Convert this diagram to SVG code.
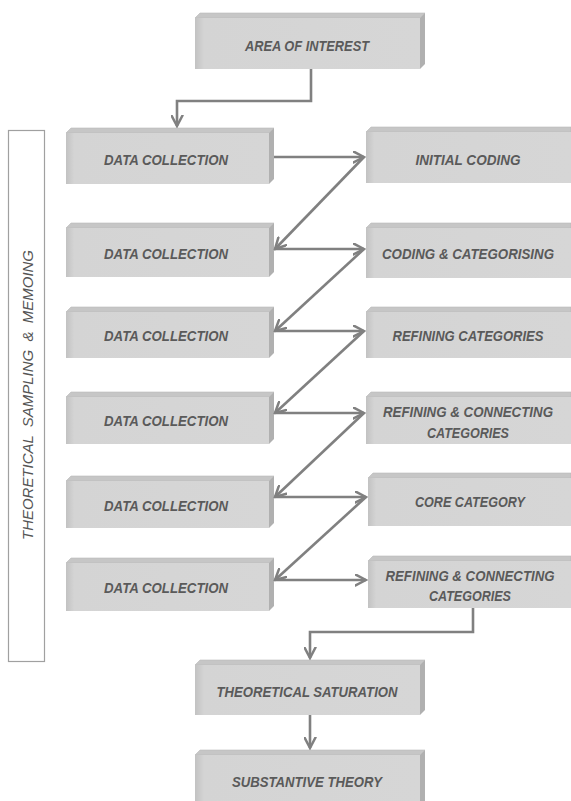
<svg xmlns="http://www.w3.org/2000/svg" width="571" height="801" viewBox="0 0 571 801">
<defs>
<linearGradient id="front" x1="0" y1="0" x2="1" y2="0">
<stop offset="0" stop-color="#c2c2c2"/>
<stop offset="0.04" stop-color="#d4d4d4"/>
<stop offset="1" stop-color="#d6d6d6"/>
</linearGradient>
<marker id="arr" viewBox="0 0 13 13" refX="11.5" refY="6.5" markerWidth="13" markerHeight="13" markerUnits="userSpaceOnUse" orient="auto">
<path d="M1,1 L11.5,6.5 L1,12" fill="none" stroke="#808080" stroke-width="2.5" stroke-linecap="round" stroke-linejoin="miter"/>
</marker>
</defs>
<style>
.front{fill:url(#front);}
.top{fill:#c6c6c6;stroke:#b8b8b8;stroke-width:0.6;}
.side{fill:#b0b0b0;}
.lbl{font-family:"Liberation Sans",Arial,sans-serif;font-weight:bold;font-style:italic;font-size:15px;fill:#5a5a5a;text-anchor:middle;}
.lbl.long{font-size:14px;}
.conn{fill:none;stroke:#808080;stroke-width:2.6;stroke-linejoin:miter;}
.side-text{font-family:"Liberation Sans",Arial,sans-serif;font-style:italic;font-size:15.5px;fill:#555;text-anchor:middle;}
</style>
<rect width="571" height="801" fill="#ffffff"/>

<g id="side-panel">
<rect x="8.5" y="130.5" width="36" height="531" fill="#ffffff" stroke="#a0a0a0" stroke-width="1.2"/>
<text class="side-text" transform="translate(32.5,395) rotate(-90)" textLength="290" lengthAdjust="spacingAndGlyphs" xml:space="preserve">THEORETICAL  SAMPLING  &amp;  MEMOING</text>
</g>

<g id="area-of-interest">
<polygon class="top" points="195,18 200,13 425,13 420,18"/>
<polygon class="side" points="420,18 425,13 425,64 420,69"/>
<rect class="front" x="195" y="18" width="225" height="51"/>
<text class="lbl" x="307" y="50.5" textLength="124" lengthAdjust="spacingAndGlyphs">AREA OF INTEREST</text>
</g>

<g id="dc1">
<polygon class="top" points="66,133 71,128 274,128 269,133"/>
<polygon class="side" points="269,133 274,128 274,179 269,184"/>
<rect class="front" x="66" y="133" width="203" height="51"/>
<text class="lbl" x="166" y="164.5" textLength="124" lengthAdjust="spacingAndGlyphs">DATA COLLECTION</text>
</g>
<g id="dc2">
<polygon class="top" points="66,228 71,223 274,223 269,228"/>
<polygon class="side" points="269,228 274,223 274,272 269,277"/>
<rect class="front" x="66" y="228" width="203" height="49"/>
<text class="lbl" x="166" y="258.5" textLength="124" lengthAdjust="spacingAndGlyphs">DATA COLLECTION</text>
</g>
<g id="dc3">
<polygon class="top" points="66,312 71,307 274,307 269,312"/>
<polygon class="side" points="269,312 274,307 274,353 269,358"/>
<rect class="front" x="66" y="312" width="203" height="46"/>
<text class="lbl" x="166" y="340.5" textLength="124" lengthAdjust="spacingAndGlyphs">DATA COLLECTION</text>
</g>
<g id="dc4">
<polygon class="top" points="66,397 71,392 274,392 269,397"/>
<polygon class="side" points="269,397 274,392 274,439 269,444"/>
<rect class="front" x="66" y="397" width="203" height="47"/>
<text class="lbl" x="166" y="425.5" textLength="124" lengthAdjust="spacingAndGlyphs">DATA COLLECTION</text>
</g>
<g id="dc5">
<polygon class="top" points="66,481 71,476 274,476 269,481"/>
<polygon class="side" points="269,481 274,476 274,523 269,528"/>
<rect class="front" x="66" y="481" width="203" height="47"/>
<text class="lbl" x="166" y="510.5" textLength="124" lengthAdjust="spacingAndGlyphs">DATA COLLECTION</text>
</g>
<g id="dc6">
<polygon class="top" points="66,563 71,558 274,558 269,563"/>
<polygon class="side" points="269,563 274,558 274,606 269,611"/>
<rect class="front" x="66" y="563" width="203" height="48"/>
<text class="lbl" x="166" y="592.5" textLength="124" lengthAdjust="spacingAndGlyphs">DATA COLLECTION</text>
</g>

<g id="initial-coding">
<polygon class="top" points="366,132 371,127 571,127 571,132"/>
<rect class="front" x="366" y="132" width="205" height="51"/>
<text class="lbl" x="468" y="164.5" textLength="105" lengthAdjust="spacingAndGlyphs">INITIAL CODING</text>
</g>
<g id="coding-categorising">
<polygon class="top" points="366,228 371,223 571,223 571,228"/>
<rect class="front" x="366" y="228" width="205" height="50"/>
<text class="lbl long" x="468" y="258.5" textLength="172" lengthAdjust="spacingAndGlyphs">CODING &amp; CATEGORISING</text>
</g>
<g id="refining-categories">
<polygon class="top" points="366,312 371,307 571,307 571,312"/>
<rect class="front" x="366" y="312" width="205" height="46"/>
<text class="lbl" x="468" y="340.5" textLength="151" lengthAdjust="spacingAndGlyphs">REFINING CATEGORIES</text>
</g>
<g id="refining-connecting-1">
<polygon class="top" points="366,397 371,392 571,392 571,397"/>
<rect class="front" x="366" y="397" width="205" height="47"/>
<text class="lbl long" x="468" y="417" textLength="170" lengthAdjust="spacingAndGlyphs">REFINING &amp; CONNECTING</text>
<text class="lbl" x="468" y="437.5" textLength="82" lengthAdjust="spacingAndGlyphs">CATEGORIES</text>
</g>
<g id="core-category">
<polygon class="top" points="368,478 373,473 571,473 571,478"/>
<rect class="front" x="368" y="478" width="203" height="48"/>
<text class="lbl" x="470" y="507" textLength="110" lengthAdjust="spacingAndGlyphs">CORE CATEGORY</text>
</g>
<g id="refining-connecting-2">
<polygon class="top" points="368,561 373,556 571,556 571,561"/>
<rect class="front" x="368" y="561" width="203" height="47"/>
<text class="lbl long" x="470" y="580.5" textLength="169" lengthAdjust="spacingAndGlyphs">REFINING &amp; CONNECTING</text>
<text class="lbl" x="470" y="601" textLength="82" lengthAdjust="spacingAndGlyphs">CATEGORIES</text>
</g>

<g id="theoretical-saturation">
<polygon class="top" points="195,665 200,660 425,660 420,665"/>
<polygon class="side" points="420,665 425,660 425,710 420,715"/>
<rect class="front" x="195" y="665" width="225" height="50"/>
<text class="lbl" x="307" y="696.5" textLength="181" lengthAdjust="spacingAndGlyphs">THEORETICAL SATURATION</text>
</g>
<g id="substantive-theory">
<polygon class="top" points="195,755 200,750 425,750 420,755"/>
<polygon class="side" points="420,755 425,750 425,801 420,801"/>
<rect class="front" x="195" y="755" width="225" height="46"/>
<text class="lbl" x="307" y="786.5" textLength="150" lengthAdjust="spacingAndGlyphs">SUBSTANTIVE THEORY</text>
</g>

<g id="connectors">
<path class="conn" d="M311,69 V101 H177 V126" marker-end="url(#arr)"/>
<path class="conn" d="M274,157 H364" marker-end="url(#arr)"/>
<path class="conn" d="M364,157 L275,249" marker-end="url(#arr)"/>
<path class="conn" d="M275,249 H364" marker-end="url(#arr)"/>
<path class="conn" d="M364,249 L275,331" marker-end="url(#arr)"/>
<path class="conn" d="M275,331 H364" marker-end="url(#arr)"/>
<path class="conn" d="M364,331 L275,413" marker-end="url(#arr)"/>
<path class="conn" d="M275,413 H364" marker-end="url(#arr)"/>
<path class="conn" d="M364,413 L275,497" marker-end="url(#arr)"/>
<path class="conn" d="M275,497 H366" marker-end="url(#arr)"/>
<path class="conn" d="M366,497 L275,580" marker-end="url(#arr)"/>
<path class="conn" d="M275,580 H366" marker-end="url(#arr)"/>
<path class="conn" d="M473,608 V632 H310 V658" marker-end="url(#arr)"/>
<path class="conn" d="M310,715 V748" marker-end="url(#arr)"/>
</g>
</svg>
